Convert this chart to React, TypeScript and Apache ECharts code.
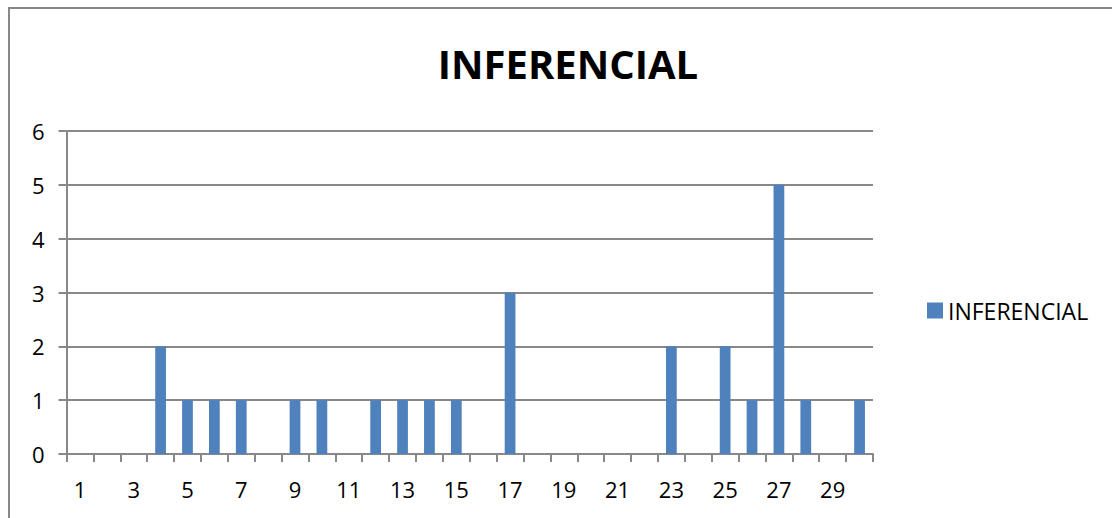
import React, { useEffect, useRef } from "react";
import * as echarts from "echarts";

const categories: string[] = [
  "1", "2", "3", "4", "5", "6", "7", "8", "9", "10",
  "11", "12", "13", "14", "15", "16", "17", "18", "19", "20",
  "21", "22", "23", "24", "25", "26", "27", "28", "29", "30",
];
const values: number[] = [
  0, 0, 0, 2, 1, 1, 1, 0, 1, 1,
  0, 1, 1, 1, 1, 0, 3, 0, 0, 0,
  0, 0, 2, 0, 2, 1, 5, 1, 0, 1,
];
const seriesName = "INFERENCIAL";
const titleText = "INFERENCIAL";

const FONT = "'Open Sans', 'Noto Sans', sans-serif";

export default function App() {
  const ref = useRef<HTMLDivElement>(null);
  useEffect(() => {
    if (!ref.current) return;
    const chart = echarts.init(ref.current, undefined, { renderer: "svg" });
    chart.setOption({
      animation: false,
      backgroundColor: "#ffffff",
      title: {
        text: titleText,
        left: 563,
        textAlign: "center",
        top: 38,
        textStyle: { fontFamily: FONT, fontSize: 40, fontWeight: "bold", color: "#000" },
      },
      legend: {
        data: [seriesName],
        left: 922,
        top: 294,
        itemWidth: 16,
        itemHeight: 16,
        itemGap: 6,
        icon: "rect",
        textStyle: { fontFamily: FONT, fontSize: 23, color: "#000" },
      },
      grid: { left: 66.5, right: 239, top: 131, bottom: 64, containLabel: false },
      xAxis: {
        type: "category",
        data: categories,
        boundaryGap: true,
        axisLine: { show: true, lineStyle: { color: "#888", width: 2 } },
        axisTick: { show: true, interval: 0, length: 8, lineStyle: { color: "#888", width: 2 } },
        axisLabel: { interval: 1, margin: 24, fontFamily: FONT, fontSize: 22, color: "#000" },
        splitLine: { show: false },
      },
      yAxis: {
        type: "value",
        min: 0,
        max: 6,
        interval: 1,
        axisLine: { show: true, lineStyle: { color: "#888", width: 2 } },
        axisTick: { show: true, length: 8, lineStyle: { color: "#888", width: 2 } },
        axisLabel: { margin: 22, fontFamily: FONT, fontSize: 22, color: "#000" },
        splitLine: { show: true, lineStyle: { color: "#888", width: 2 } },
      },
      series: [
        {
          name: seriesName,
          type: "bar",
          data: values,
          barWidth: "40%",
          itemStyle: { color: "#4F81BD" },
        },
      ],
      graphic: [
        {
          type: "rect",
          shape: { x: 9, y: 8, width: 1200, height: 600 },
          style: { fill: "none", stroke: "#888", lineWidth: 2 },
          silent: true,
        },
      ],
    });
    return () => chart.dispose();
  }, []);
  return (
    <div
      ref={ref}
      style={{ position: "absolute", left: 0, top: 0, width: 1112, height: 518 }}
    />
  );
}
